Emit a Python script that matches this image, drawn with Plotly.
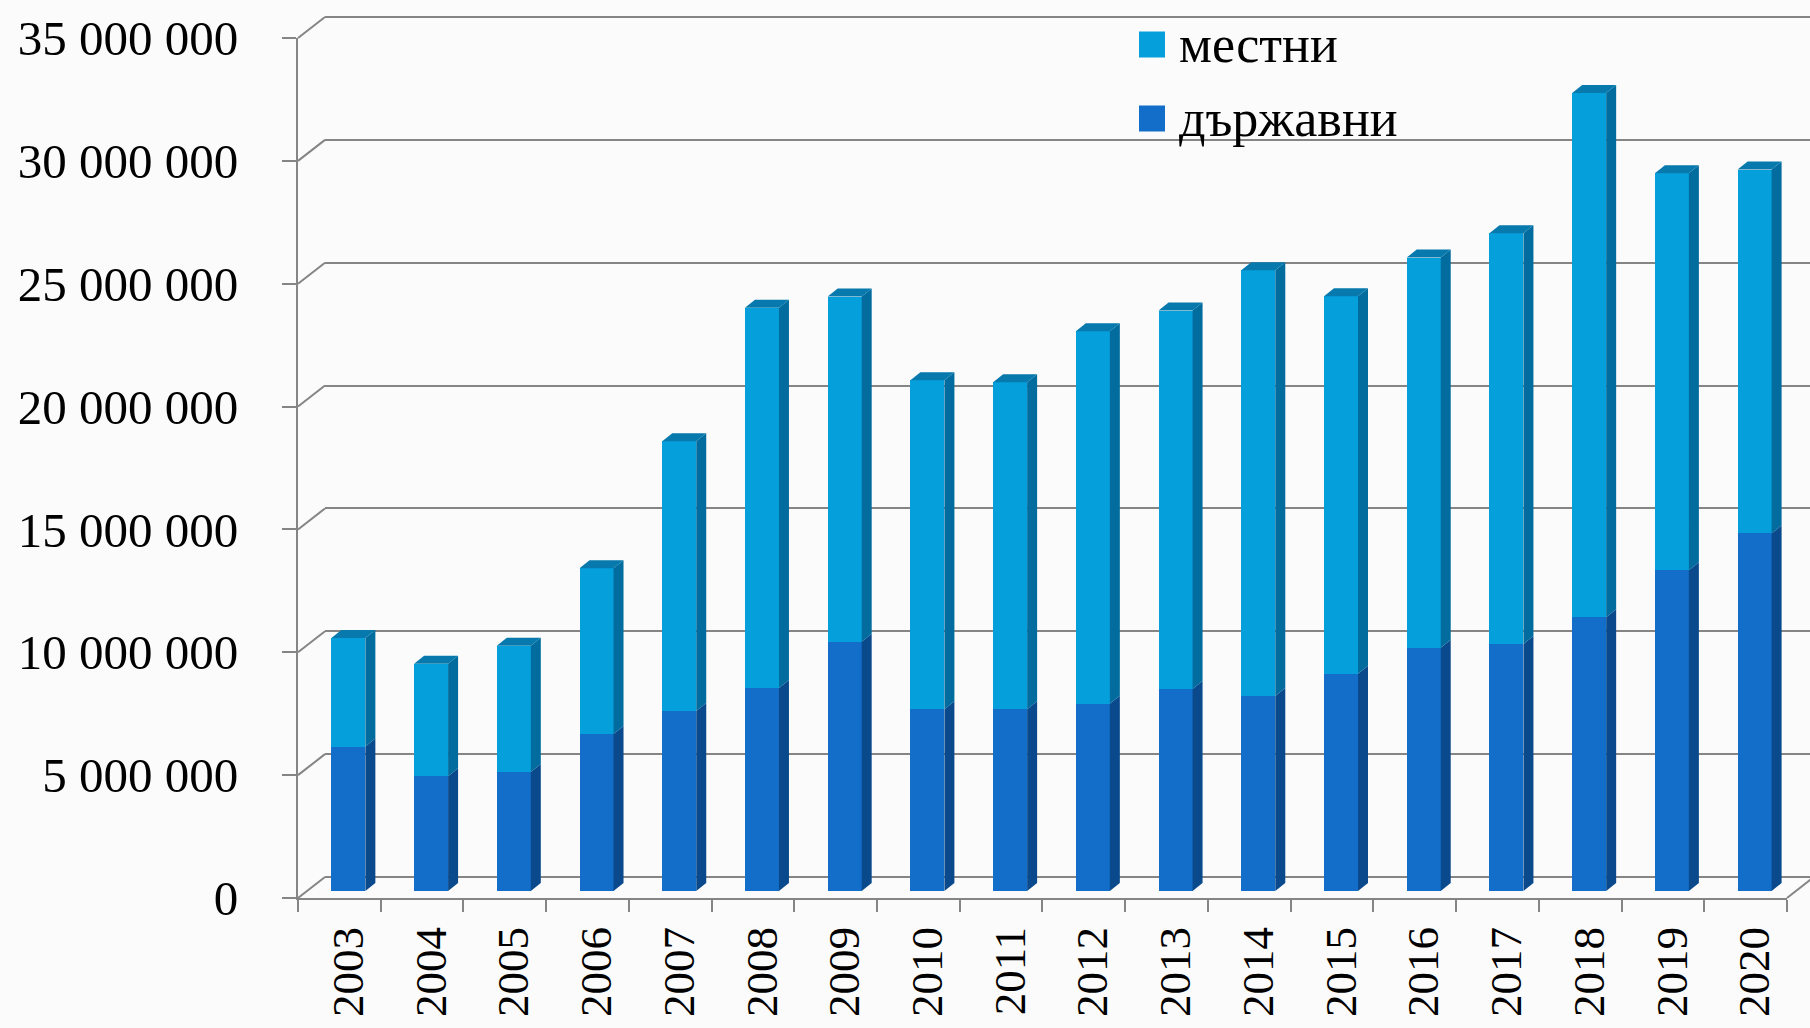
import plotly.graph_objects as go

# ---------------- data ----------------
YEARS = ["2003", "2004", "2005", "2006", "2007", "2008", "2009", "2010", "2011",
         "2012", "2013", "2014", "2015", "2016", "2017", "2018", "2019", "2020"]
STATE = [5880000, 4670000, 4840000, 6390000, 7330000, 8260000, 10140000, 7400000,
         7400000, 7620000, 8220000, 7940000, 8840000, 9900000, 10050000, 11140000,
         13050000, 14550000]          # държавни
LOCAL = [4420000, 4580000, 5140000, 6750000, 10970000, 15480000, 14050000, 13390000,
         13310000, 15160000, 15400000, 17320000, 15360000, 15880000, 16720000,
         21340000, 16160000, 14810000]  # местни
Y_TICKS = [0, 5000000, 10000000, 15000000, 20000000, 25000000, 30000000, 35000000]
Y_TICK_LABELS = ["0", "5 000 000", "10 000 000", "15 000 000", "20 000 000",
                 "25 000 000", "30 000 000", "35 000 000"]
SERIES_NAMES = ["местни", "държавни"]

# ---------------- geometry / style ----------------
W, H = 1810, 1028
N = len(YEARS)
CAT_PX = 82.72
YMAX = 35000000
K = 860 / YMAX                 # px per unit
FRONT_X0, FRONT_Y0 = 298, 898  # front plane: left boundary, zero line
BACK_DX, BACK_DY = 27, 21      # back wall offset
BAR_DX, BAR_DY = 9, 7          # bar plane offset
DEP_DX, DEP_DY = 10, 8         # bar depth (px)
BAR_W = 0.411

FONT = "Liberation Serif"
GRID = "#858585"
BG = "#fbfbfb"
C_STATE, C_STATE_SIDE = "#126ec9", "#0a4a8c"
C_LOCAL, C_LOCAL_SIDE = "#05a0dc", "#026c9e"
C_CAP = "#0779ad"


def xdom(left_px):
    return [left_px / W, min(1.0, (left_px + N * CAT_PX) / W)]


def ydom(zero_px, lo, hi):
    return [1 - (zero_px - lo * K) / H, 1 - (zero_px - hi * K) / H]


fig = go.Figure()

# subplot 1: back wall grid
fig.add_trace(go.Scatter(x=[None], y=[None], xaxis="x", yaxis="y",
                         showlegend=False, hoverinfo="skip"))
# subplot 2: front axes
fig.add_trace(go.Scatter(x=[None], y=[None], xaxis="x2", yaxis="y2",
                         showlegend=False, hoverinfo="skip"))

# subplot 3: bars
idx = list(range(N))
total = [s + l for s, l in zip(STATE, LOCAL)]
fig.add_trace(go.Bar(x=idx, y=STATE, name=SERIES_NAMES[1], width=BAR_W,
                     marker=dict(color=C_STATE, line=dict(width=0)),
                     xaxis="x3", yaxis="y3", showlegend=False))
fig.add_trace(go.Bar(x=idx, y=LOCAL, name=SERIES_NAMES[0], width=BAR_W,
                     marker=dict(color=C_LOCAL, line=dict(width=0)),
                     xaxis="x3", yaxis="y3", showlegend=False))

DX = DEP_DX / CAT_PX
DY = DEP_DY / K


def side(bottoms, tops):
    xs, ys = [], []
    for i, (b, t) in enumerate(zip(bottoms, tops)):
        xr = i + BAR_W / 2
        xs += [xr, xr + DX, xr + DX, xr, None]
        ys += [b, b + DY, t + DY, t, None]
    return xs, ys


def caps(tops):
    xs, ys = [], []
    for i, t in enumerate(tops):
        xl, xr = i - BAR_W / 2, i + BAR_W / 2
        xs += [xl, xl + DX, xr + DX, xr, None]
        ys += [t, t + DY, t + DY, t, None]
    return xs, ys


for (xs, ys), col in [(side([0] * N, STATE), C_STATE_SIDE),
                      (side(STATE, total), C_LOCAL_SIDE),
                      (caps(total), C_CAP)]:
    fig.add_trace(go.Scatter(x=xs, y=ys, mode="lines", fill="toself",
                             fillcolor=col, line=dict(width=0, color=col),
                             xaxis="x3", yaxis="y3", showlegend=False,
                             hoverinfo="skip"))

shapes = []
# left wall connectors
for v in Y_TICKS:
    shapes.append(dict(type="line", xref="paper", yref="paper",
                       x0=FRONT_X0 / W, y0=1 - (FRONT_Y0 - v * K) / H,
                       x1=(FRONT_X0 + BACK_DX) / W,
                       y1=1 - (FRONT_Y0 - BACK_DY - v * K) / H,
                       line=dict(color=GRID, width=2)))
# right floor connector
xr_px = FRONT_X0 + N * CAT_PX
shapes.append(dict(type="line", xref="paper", yref="paper",
                   x0=xr_px / W, y0=1 - FRONT_Y0 / H,
                   x1=(xr_px + BACK_DX) / W, y1=1 - (FRONT_Y0 - BACK_DY) / H,
                   line=dict(color=GRID, width=2)))

# legend (custom, large squares)
LEG_X = 1139
LEG_ROWS = [(44.5, C_LOCAL, SERIES_NAMES[0]), (118.5, C_STATE, SERIES_NAMES[1])]
annotations = []
for cy, col, name in LEG_ROWS:
    shapes.append(dict(type="rect", xref="paper", yref="paper",
                       x0=LEG_X / W, x1=(LEG_X + 26) / W,
                       y0=1 - (cy + 13) / H, y1=1 - (cy - 13) / H,
                       fillcolor=col, line=dict(width=0)))
    annotations.append(dict(xref="paper", yref="paper", x=(LEG_X + 38) / W,
                            y=1 - cy / H, xanchor="left", yanchor="middle",
                            text=name, showarrow=False,
                            font=dict(family=FONT, size=52, color="black")))

fig.update_layout(
    width=W, height=H, autosize=False,
    margin=dict(l=0, r=0, t=0, b=0, pad=0),
    paper_bgcolor=BG, plot_bgcolor="rgba(0,0,0,0)",
    showlegend=False, barmode="stack",
    font=dict(family=FONT, size=50, color="black"),
    shapes=shapes, annotations=annotations,
    # back wall
    xaxis=dict(domain=[(FRONT_X0 + BACK_DX) / W, 1.0], range=[0, 1],
               visible=False, anchor="y", automargin=False),
    yaxis=dict(domain=ydom(FRONT_Y0 - BACK_DY, -300000, 35300000),
               range=[-300000, 35300000], anchor="x", automargin=False,
               tickvals=Y_TICKS, showticklabels=False, ticks="",
               showgrid=True, gridcolor=GRID, gridwidth=2,
               zeroline=False, showline=False),
    # front axes
    xaxis2=dict(domain=xdom(FRONT_X0), range=[-0.5, N - 0.5], type="linear",
                anchor="y2", tickvals=[i - 0.5 for i in range(N + 1)],
                ticktext=[""] * (N + 1), ticks="outside", ticklen=12,
                tickwidth=2, tickcolor=GRID, showline=True, linecolor=GRID,
                linewidth=2, showgrid=False, zeroline=False, automargin=False),
    yaxis2=dict(domain=ydom(FRONT_Y0, 0, YMAX), range=[0, YMAX], anchor="x2",
                tickvals=Y_TICKS, ticktext=Y_TICK_LABELS, ticks="outside",
                ticklen=14, tickwidth=2, tickcolor=GRID, showline=True,
                linecolor=GRID, linewidth=2, showgrid=False, zeroline=False,
                ticklabelstandoff=34, automargin=False,
                tickfont=dict(family=FONT, size=49)),
    # bar plane
    xaxis3=dict(domain=xdom(FRONT_X0 + BAR_DX), range=[-0.5, N - 0.5],
                type="linear", anchor="y3", tickvals=idx, ticktext=YEARS,
                ticks="", tickangle=-90, showline=False, showgrid=False,
                zeroline=False, ticklabelstandoff=26, automargin=False,
                tickfont=dict(family=FONT, size=45)),
    yaxis3=dict(domain=ydom(FRONT_Y0 - BAR_DY, 0, YMAX), range=[0, YMAX],
                anchor="x3", visible=False, automargin=False),
)

fig.write_html("out.html",
               config={"displayModeBar": False, "responsive": False},
               post_script="document.body.style.margin='0';"
                           "document.body.style.padding='0';")
